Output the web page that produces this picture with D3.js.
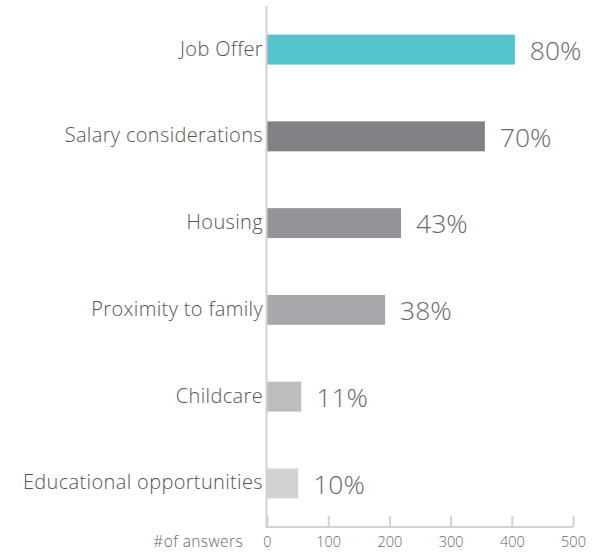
<!DOCTYPE html>
<html>
<head>
<meta charset="utf-8">
<script src="https://cdn.jsdelivr.net/npm/d3@7"></script>
<style>
  body { margin: 0; background: #fff; }
  text { font-family: "Open Sans", sans-serif; }
</style>
</head>
<body>
<svg></svg>
<script>
// data
var categories = ["Job Offer", "Salary considerations", "Housing", "Proximity to family", "Childcare", "Educational opportunities"];
var answers = [405, 356, 219, 193, 56, 51];
var percentLabels = ["80%", "70%", "43%", "38%", "11%", "10%"];
var barColors = ["#53c4cc", "#808185", "#939498", "#a7a8ab", "#bcbdbf", "#d1d2d4"];
var xTicks = [0, 100, 200, 300, 400, 500];

var width = 592, height = 552;

var svg = d3.select("svg")
    .attr("width", width)
    .attr("height", height);

var x = d3.scaleLinear()
    .domain([0, 500])
    .range([267, 573]);

var y = d3.scaleBand()
    .domain(categories)
    .range([6, 527])
    .paddingInner(0.655)
    .paddingOuter(0.33);

// bars
svg.append("g")
  .selectAll("rect")
  .data(categories)
  .enter()
  .append("rect")
    .attr("x", x(0))
    .attr("y", function(d) { return y(d); })
    .attr("width", function(d, i) { return x(answers[i]) - x(0); })
    .attr("height", y.bandwidth())
    .attr("fill", function(d, i) { return barColors[i]; });

// vertical axis line
svg.append("line")
    .attr("x1", x(0) - 0.5).attr("x2", x(0) - 0.5)
    .attr("y1", 6).attr("y2", 528)
    .attr("stroke", "#d2d2d4")
    .attr("stroke-width", 2);

// category labels
svg.append("g")
  .selectAll("text")
  .data(categories)
  .enter()
  .append("text")
    .attr("x", x(0) - 4)
    .attr("y", function(d) { return y(d) + y.bandwidth() / 2 - 1; })
    .attr("dy", "0.35em")
    .attr("text-anchor", "end")
    .attr("font-size", 20)
    .attr("font-weight", 300)
    .attr("letter-spacing", 0.35)
    .attr("fill", "#555")
    .text(function(d) { return d; });

// value labels
svg.append("g")
  .selectAll("text")
  .data(categories)
  .enter()
  .append("text")
    .attr("x", function(d, i) { return x(answers[i]) + 15; })
    .attr("y", function(d) { return y(d) + y.bandwidth() / 2 + 1; })
    .attr("dy", "0.35em")
    .attr("font-size", 26.5)
    .attr("font-weight", 300)
    .attr("fill", "#6a6a6a")
    .text(function(d, i) { return percentLabels[i]; });

// bottom axis
var xAxis = svg.append("g")
    .attr("transform", "translate(0,527)")
    .call(d3.axisBottom(x).tickValues(xTicks).tickSize(-11).tickPadding(20));

xAxis.select(".domain")
    .attr("d", "M" + (x(0) - 1.5) + ",0H" + x(500))
    .attr("stroke", "#d2d2d4")
    .attr("stroke-width", 2);
xAxis.selectAll(".tick line")
    .attr("stroke", "#d2d2d4")
    .attr("stroke-width", 2);
xAxis.selectAll(".tick text")
    .attr("font-family", "Open Sans, sans-serif")
    .attr("font-size", 14.5)
    .attr("font-weight", 300)
    .attr("fill", "#666")
    .attr("y", 15)
    .attr("dy", "0.35em");

svg.append("text")
    .attr("x", 243)
    .attr("y", 542)
    .attr("dy", "0.35em")
    .attr("text-anchor", "end")
    .attr("font-size", 15.5)
    .attr("font-weight", 300)
    .attr("letter-spacing", 0.4)
    .attr("fill", "#666")
    .text("#of answers");
</script>
</body>
</html>
